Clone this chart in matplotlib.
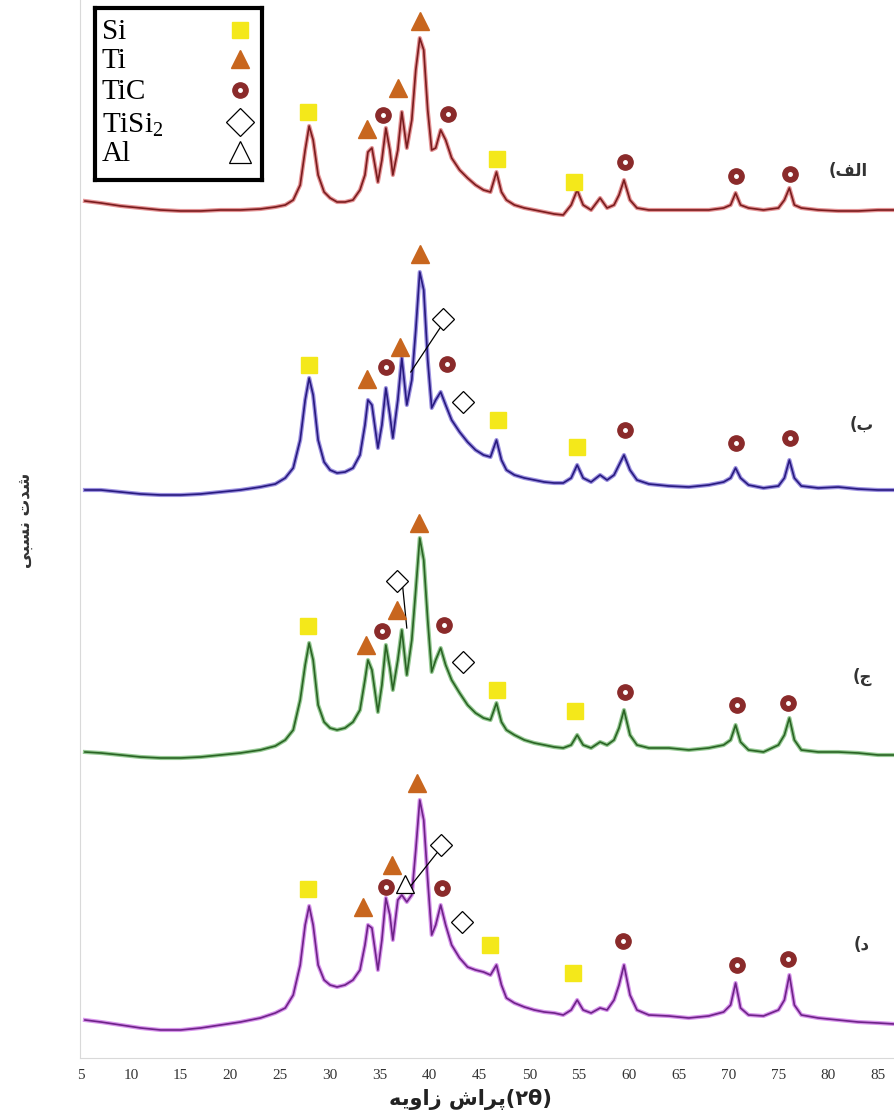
import matplotlib
matplotlib.use('Agg')
import matplotlib.pyplot as plt

plt.rcParams['mathtext.fontset'] = 'custom'
plt.rcParams['mathtext.rm'] = 'Liberation Serif'

# 2-theta sample positions (deg), shared by all four patterns
two_theta = [5.4, 7, 9, 11, 13, 15, 17, 19, 21, 23, 24.5, 25.5, 26.3, 27.0, 27.5, 27.9,
             28.3, 28.8, 29.4, 30.0, 30.7, 31.5, 32.3, 33.0, 33.5, 33.8, 34.2, 34.8, 35.2,
             35.6, 36.0, 36.3, 36.8, 37.2, 37.7, 38.2, 38.6, 39.0, 39.4, 39.8, 40.2, 40.6,
             41.1, 41.6, 42.2, 43.0, 43.8, 44.6, 45.4, 46.1, 46.7, 47.2, 47.7, 48.5, 49.5,
             50.5, 51.5, 52.5, 53.4, 54.2, 54.8, 55.4, 56.2, 57.1, 57.8, 58.5, 59.0, 59.5,
             60.1, 60.8, 62, 64, 66, 68, 69.5, 70.2, 70.7, 71.2, 72, 73.5, 75.0, 75.6, 76.1,
             76.6, 77.3, 79, 81, 83, 85, 86.6]

# intensities (a.u.)
int_a = [14, 12, 9, 7, 5, 4, 4, 5, 5, 6, 8, 10, 15, 30, 65, 89,
         75, 40, 23, 17, 13, 13, 15, 25, 40, 63, 67, 33, 55,
         87, 65, 40, 65, 103, 67, 95, 145, 177, 165, 105, 65, 67,
         85, 75, 57, 45, 37, 30, 25, 23, 43, 23, 15, 10, 7,
         5, 3, 1, 0, 10, 25, 10, 5, 17, 7, 10, 20, 35,
         15, 7, 5, 5, 5, 5, 7, 10, 22, 10, 7, 5, 7, 15, 27,
         10, 7, 5, 4, 4, 5, 5]
int_b = [5, 5, 3, 1, 0, 0, 1, 3, 5, 8, 11, 17, 27, 55, 95, 117,
         100, 55, 33, 25, 22, 23, 27, 40, 70, 95, 90, 47, 70,
         107, 80, 57, 95, 137, 90, 115, 165, 223, 205, 135, 87, 95,
         103, 90, 75, 63, 53, 45, 40, 38, 55, 35, 25, 20, 17,
         15, 13, 12, 12, 17, 30, 17, 13, 20, 15, 20, 30, 40,
         25, 15, 11, 9, 8, 10, 13, 17, 27, 17, 10, 7, 9, 17, 35,
         17, 9, 7, 8, 6, 5, 5]
int_c = [8, 7, 5, 3, 2, 2, 3, 5, 7, 10, 14, 20, 30, 60, 95, 117,
         100, 55, 38, 32, 30, 32, 38, 50, 80, 100, 90, 48, 75,
         115, 92, 70, 100, 130, 85, 120, 170, 222, 200, 140, 88, 100,
         112, 95, 80, 67, 55, 47, 42, 40, 57, 38, 30, 25, 20,
         17, 15, 13, 12, 15, 25, 15, 12, 18, 15, 20, 32, 50,
         25, 15, 12, 12, 10, 12, 15, 20, 35, 18, 10, 8, 15, 25, 42,
         20, 10, 8, 8, 7, 5, 5]
int_d = [12, 10, 7, 4, 2, 2, 4, 7, 10, 14, 19, 24, 37, 67, 107, 126,
         107, 67, 52, 47, 45, 47, 52, 62, 87, 107, 104, 62, 92,
         134, 117, 92, 132, 137, 130, 137, 182, 232, 212, 152, 97, 107,
         127, 107, 87, 74, 65, 62, 60, 57, 67, 47, 34, 29, 25,
         22, 20, 19, 17, 22, 32, 22, 19, 24, 22, 32, 47, 67,
         37, 22, 17, 16, 14, 16, 20, 27, 49, 24, 17, 16, 22, 32, 57,
         27, 17, 14, 12, 10, 9, 8]

patterns = [int_a, int_b, int_c, int_d]
offsets = [843, 563, 298, 26]
line_colors = ['#c8282c', '#3a24c0', '#2f952a', '#b02cd8']
core_colors = ['#7a1c1e', '#281a80', '#2a6424', '#6e2288']

# curve labels (Persian, visual order with presentation forms)
labels = ['(\uFED2\uFEDF\uFE8D', '(\uFE8F', '(\uFE9D', '(\uFEA9']
label_pos = [(82.0, 44), (83.4, 70), (83.4, 83), (83.4, 87)]

# phase markers: (phase, 2theta, height above pattern base)
marks_a = [('Si', 27.8, 103), ('Ti', 33.7, 86), ('TiC', 35.3, 100), ('Ti', 36.8, 127),
           ('Ti', 39.0, 194), ('TiC', 41.8, 101), ('Si', 46.8, 56), ('Si', 54.5, 33),
           ('TiC', 59.6, 53), ('TiC', 70.7, 39), ('TiC', 76.2, 41)]
marks_b = [('Si', 27.9, 130), ('Ti', 33.7, 116), ('TiC', 35.6, 128), ('Ti', 37.0, 148),
           ('Ti', 39.0, 241), ('TiSi2', 41.3, 176), ('TiC', 41.7, 131), ('TiSi2', 43.3, 93),
           ('Si', 46.9, 75), ('Si', 54.8, 48), ('TiC', 59.6, 65), ('TiC', 70.7, 52),
           ('TiC', 76.2, 57)]
marks_c = [('Si', 27.8, 134), ('Ti', 33.6, 115), ('TiC', 35.2, 129), ('Ti', 36.7, 150),
           ('Ti', 38.9, 237), ('TiSi2', 36.7, 179), ('TiC', 41.4, 135), ('TiSi2', 43.3, 98),
           ('Si', 46.8, 70), ('Si', 54.6, 49), ('TiC', 59.6, 68), ('TiC', 70.8, 55),
           ('TiC', 76.0, 57)]
marks_d = [('Si', 27.8, 143), ('Ti', 33.3, 125), ('TiC', 35.6, 145), ('Ti', 36.2, 167),
           ('Ti', 38.7, 249), ('Al', 37.5, 148), ('TiSi2', 41.1, 187), ('TiC', 41.2, 144),
           ('TiSi2', 43.2, 110), ('Si', 46.1, 87), ('Si', 54.4, 59), ('TiC', 59.4, 91),
           ('TiC', 70.8, 67), ('TiC', 76.0, 73)]
all_marks = [marks_a, marks_b, marks_c, marks_d]

# leader lines from TiSi2 markers: (pattern index, start, end) in (2theta, height)
leaders = [(1, (41.1, 168), (38.1, 123)), (2, (37.3, 172), (37.7, 132)),
           (3, (40.8, 180), (38.0, 145))]

phases = ['Si', 'Ti', 'TiC', 'TiSi2', 'Al']
phase_labels = ['Si', 'Ti', 'TiC', r'TiSi$_\mathrm{2}$', 'Al']

si_color = '#f4e81a'
ti_color = '#c8661e'
tic_color = '#8a2a2a'


def draw_marker(ax, phase, x, y, big=False):
    k = 1.25 if big else 1.0
    if phase == 'Si':
        ax.plot(x, y, 's', ms=12, color=si_color, mec=si_color, zorder=5)
    elif phase == 'Ti':
        ax.plot(x, y, '^', ms=13, color=ti_color, mec=ti_color, zorder=5)
    elif phase == 'TiC':
        ax.plot(x, y, 'o', ms=11, color=tic_color, mec=tic_color, zorder=5)
        ax.plot(x, y, 'o', ms=2.5, color='white', mec='white', zorder=6)
    elif phase == 'TiSi2':
        ax.plot(x, y, 'D', ms=11 * k, mfc='white', mec='black', mew=0.9, zorder=5)
    elif phase == 'Al':
        ax.plot(x, y, '^', ms=11 * k * 1.15, mfc='white', mec='black', mew=0.9, zorder=5)


fig = plt.figure(figsize=(8.94, 11.2), dpi=100)
ax = fig.add_axes([80 / 894, 62 / 1120, 814 / 894, 1058 / 1120])

for ys, off, c, cc in zip(patterns, offsets, line_colors, core_colors):
    yy = [v + off for v in ys]
    ax.plot(two_theta, yy, color=c, lw=3.0, alpha=0.5, solid_joinstyle='round')
    ax.plot(two_theta, yy, color=cc, lw=1.2, solid_joinstyle='round')

for idx, p0, p1 in leaders:
    off = offsets[idx]
    ax.plot([p0[0], p1[0]], [p0[1] + off, p1[1] + off], color='black', lw=0.9, zorder=4)

for marks, off in zip(all_marks, offsets):
    for phase, x, h in marks:
        draw_marker(ax, phase, x, h + off)

for lab, (x, h), off in zip(labels, label_pos, offsets):
    ax.text(x, h + off, lab, fontsize=12, fontweight='bold', color='#333333',
            ha='center', va='center', family='DejaVu Sans')

ax.set_xlim(4.9, 86.6)
ax.set_ylim(0, 1058)
ax.set_xticks(range(5, 90, 5))
ax.set_yticks([])
ax.tick_params(axis='x', length=0, pad=8, labelsize=11, labelcolor='#333333')
for lbl in ax.get_xticklabels():
    lbl.set_family('Liberation Serif')
for s in ['top', 'right']:
    ax.spines[s].set_visible(False)
ax.spines['left'].set_color('#d9d9d9')
ax.spines['bottom'].set_color('#d9d9d9')

# legend box drawn as its own small axes
lax = fig.add_axes([95 / 894, 1 - 180 / 1120, 167 / 894, 172 / 1120])
lax.set_xlim(0, 1)
lax.set_ylim(1, 0)
lax.set_xticks([])
lax.set_yticks([])
for s in lax.spines.values():
    s.set_linewidth(3)
    s.set_color('black')
row_y = [0.14, 0.31, 0.49, 0.68, 0.85]
for ph, lab, ry in zip(phases, phase_labels, row_y):
    lax.text(0.04, ry, lab, fontsize=21, family='Liberation Serif', ha='left', va='center')
    draw_marker(lax, ph, 0.87, ry - 0.015, big=True)

# x label (Persian, visual order)
xlab = ('\uFEEA\uFEF3\uFEED\uFE8D\uFEAF' + ' ' + '\uFEB5\uFE8D\uFEAE\uFB58' + '(\u06F2\u03B8)')
fig.text(470 / 894, 1 - 1100 / 1120, xlab, fontsize=15, fontweight='bold', ha='center',
         va='center', family='DejaVu Sans', color='#222222')
ylab = '\uFEF0\uFE92\uFEB4\uFEE7 \uFE95\uFEAA\uFEB7'
fig.text(25 / 894, 1 - 520 / 1120, ylab, fontsize=12, fontweight='bold', rotation=90,
         ha='center', va='center', family='DejaVu Sans', color='#333333')

fig.savefig('out.png', dpi=100)
